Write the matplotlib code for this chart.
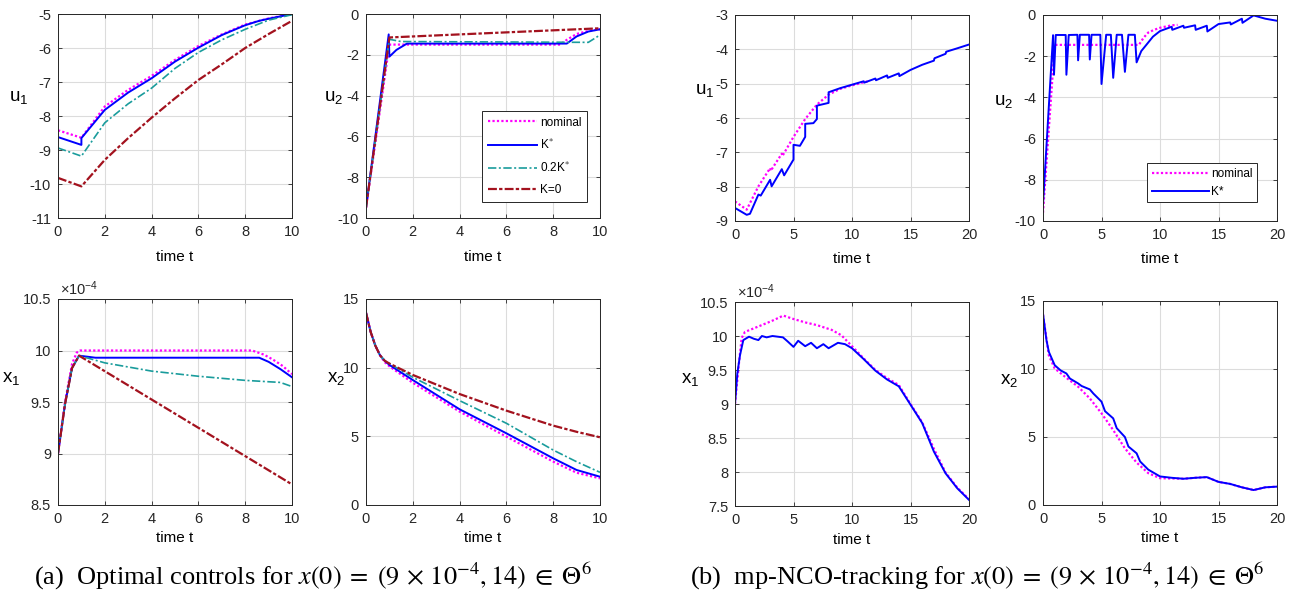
import matplotlib
matplotlib.use("Agg")
from matplotlib import pyplot as plt

plt.rcParams["font.family"] = ["Liberation Sans", "DejaVu Sans"]
plt.rcParams["mathtext.fontset"] = "stix"
plt.rcParams["axes.unicode_minus"] = False

# ---- (a) optimal controls, t in [0, 10] ----
a_u1_nom_t = [0, 1, 2, 3, 4, 5, 6, 7, 8, 9, 10]
a_u1_nom = [-8.42, -8.64, -7.72, -7.23, -6.82, -6.35, -5.94, -5.6, -5.31, -5.13, -5.0]
a_u1_k_t = [0, 1, 1, 2, 3, 4, 5, 6, 7, 8, 8.6, 9, 10]
a_u1_k = [-8.62, -8.85, -8.65, -7.82, -7.31, -6.89, -6.4, -5.99, -5.62, -5.33, -5.2, -5.14, -5.0]
a_u1_02k_t = [0, 1, 2, 3, 4, 5, 6, 7, 8, 9, 10]
a_u1_02k = [-8.94, -9.18, -8.2, -7.64, -7.18, -6.6, -6.13, -5.76, -5.45, -5.18, -5.02]
a_u1_k0_t = [0, 1, 2, 3, 4, 5, 6, 7, 8, 9, 10]
a_u1_k0 = [-9.82, -10.07, -9.29, -8.65, -8.05, -7.48, -6.94, -6.48, -6.0, -5.59, -5.2]

a_u2_nom_t = [0, 1.0, 8.3, 8.6, 9.0, 9.5, 10]
a_u2_nom = [-9.5, -1.5, -1.5, -1.25, -0.98, -0.83, -0.75]
a_u2_k_t = [0, 0.97, 1.0, 1.3, 1.75, 8.58, 9.0, 9.5, 10]
a_u2_k = [-9.5, -1.0, -2.09, -1.76, -1.45, -1.45, -1.1, -0.86, -0.75]
a_u2_02k_t = [0, 1.0, 1.5, 9.5, 10]
a_u2_02k = [-9.5, -1.24, -1.35, -1.39, -1.03]
a_u2_k0_t = [0, 1.0, 10]
a_u2_k0 = [-9.5, -1.15, -0.7]

# x1 values in units of 1e-4
a_x1_nom_t = [0, 0.3, 0.6, 0.8, 0.95, 8.3, 8.8, 9.2, 9.6, 10]
a_x1_nom = [9.0, 9.5, 9.87, 9.98, 10.0, 10.0, 9.96, 9.91, 9.85, 9.77]
a_x1_k_t = [0, 0.3, 0.6, 0.9, 1.6, 8.6, 9.0, 9.5, 10]
a_x1_k = [9.0, 9.48, 9.83, 9.95, 9.93, 9.93, 9.89, 9.82, 9.74]
a_x1_02k_t = [0, 0.3, 0.6, 0.9, 2, 4, 6, 8, 9.5, 10]
a_x1_02k = [9.0, 9.48, 9.83, 9.95, 9.88, 9.8, 9.75, 9.71, 9.69, 9.65]
a_x1_k0_t = [0, 0.3, 0.6, 0.9, 10]
a_x1_k0 = [9.0, 9.48, 9.83, 9.95, 8.7]

a_x2_t = [0, 0.2, 0.4, 0.6, 0.8, 1, 2, 4, 6, 8, 9, 10]
a_x2_nom = [14, 12.6, 11.6, 10.9, 10.4, 10.1, 8.9, 6.8, 4.98, 3.16, 2.35, 1.94]
a_x2_k = [14, 12.6, 11.6, 10.9, 10.5, 10.2, 9.1, 6.97, 5.22, 3.4, 2.55, 2.06]
a_x2_02k = [14, 12.6, 11.6, 10.9, 10.5, 10.3, 9.3, 7.6, 5.95, 4.0, 3.15, 2.38]
a_x2_k0 = [14, 12.6, 11.6, 10.9, 10.5, 10.3, 9.47, 8.08, 6.87, 5.78, 5.33, 4.93]

# ---- (b) mp-NCO-tracking, t in [0, 20] ----
b_u1_nom_t = [0, 1, 2, 3, 3.05, 4, 4.05, 5, 6, 7, 8, 9, 10, 11, 11.5]
b_u1_nom = [-8.43, -8.67, -7.99, -7.46, -7.54, -7.04, -7.11, -6.55, -6.03, -5.61, -5.32,
            -5.15, -5.05, -4.96, -4.92]
b_u1_k_t = [0, 1, 1.28, 2, 2.2, 3, 3.13, 4, 4.2, 5, 5, 5.55, 6, 6, 6.7, 7, 7, 8, 8, 9, 10,
            11, 11.05, 12, 12.05, 13, 13.05, 14, 14.05, 15, 16, 17, 17.05, 18, 18.05, 19, 20]
b_u1_k = [-8.62, -8.82, -8.79, -8.23, -8.26, -7.8, -7.99, -7.49, -7.67, -7.21, -6.78, -6.81,
          -6.55, -6.17, -6.15, -6.03, -5.64, -5.56, -5.25, -5.13, -5.03, -4.93, -4.97, -4.85,
          -4.9, -4.76, -4.83, -4.7, -4.78, -4.6, -4.45, -4.33, -4.26, -4.13, -4.07, -3.97, -3.86]

b_u2_nom_t = [0, 1.0, 8.2, 8.6, 9.0, 9.5, 10, 11, 11.5]
b_u2_nom = [-9.6, -1.45, -1.45, -1.1, -0.85, -0.72, -0.62, -0.5, -0.48]
b_u2_k_t = [0, 0.86, 0.94, 1.09, 1.94, 2.0, 2.2, 2.94, 3.0, 3.15, 3.94, 4.0, 4.15, 4.9, 5.0,
            5.4, 5.8, 6.0, 6.3, 6.75, 7.0, 7.3, 7.85, 8.0, 8.4, 8.86, 9.4, 10, 11, 11.05,
            12, 12.05, 13, 13.05, 14, 14.05, 15, 16, 16.05, 17, 17.05, 18, 19, 20]
b_u2_k = [-9.2, -0.98, -2.9, -0.97, -0.97, -2.9, -0.97, -0.96, -2.2, -0.96, -0.96, -2.16,
          -0.96, -0.96, -3.35, -0.96, -0.96, -3.05, -0.96, -0.96, -2.76, -0.96, -0.96, -2.3,
          -1.75, -1.43, -1.05, -0.78, -0.57, -0.72, -0.52, -0.62, -0.5, -0.72, -0.52, -0.8,
          -0.44, -0.36, -0.46, -0.18, -0.38, -0.02, -0.18, -0.28]

b_x1_nom_t = [0, 0.35, 0.57, 0.85, 2, 3.13, 4.13, 5, 6, 7, 8.26, 9.1, 10, 11, 12, 13, 14,
              15, 16, 17, 18, 19, 20]
b_x1_nom = [9.0, 9.62, 9.97, 10.06, 10.14, 10.22, 10.3, 10.25, 10.2, 10.16, 10.09, 10.01,
            9.85, 9.67, 9.5, 9.38, 9.28, 9.0, 8.73, 8.34, 7.99, 7.77, 7.6]
b_x1_k_t = [0, 0.2, 0.43, 0.71, 1.2, 1.6, 2.0, 2.3, 2.7, 3.2, 4.1, 4.5, 5.0, 5.4, 6.0, 6.5,
            7.0, 7.55, 8.0, 8.8, 9.4, 10, 11, 12, 13, 14, 15, 16, 17, 18, 19, 20]
b_x1_k = [9.0, 9.45, 9.72, 9.94, 9.99, 9.96, 9.94, 10.0, 9.98, 10.0, 9.98, 9.92, 9.84, 9.93,
          9.85, 9.9, 9.82, 9.88, 9.82, 9.9, 9.88, 9.82, 9.66, 9.49, 9.36, 9.26, 8.99, 8.72,
          8.3, 7.98, 7.76, 7.59]

b_x2_nom_t = [0, 0.5, 1, 2, 3, 4, 5, 6, 7, 8, 9, 10, 11, 12, 13, 14, 15, 16, 17, 18, 19, 20]
b_x2_nom = [14, 11.0, 10.04, 9.35, 8.7, 7.84, 6.74, 5.51, 4.17, 3.12, 2.34, 1.97, 1.95, 1.93,
            2.0, 2.05, 1.7, 1.55, 1.3, 1.1, 1.3, 1.35]
b_x2_k_t = [0, 0.3, 0.5, 1, 1.5, 2, 2.3, 3, 3.3, 4, 4.3, 5, 5.3, 6, 6.3, 7, 7.3, 8, 8.3, 9,
            10, 11, 12, 13, 14, 15, 16, 17, 18, 19, 20]
b_x2_k = [14.07, 12.1, 11.26, 10.28, 9.9, 9.67, 9.3, 8.94, 8.75, 8.5, 8.2, 7.6, 6.9, 6.37,
          5.65, 5.0, 4.3, 3.8, 3.2, 2.6, 2.1, 2.0, 1.93, 2.0, 2.05, 1.7, 1.55, 1.3, 1.1, 1.3, 1.35]

NOM = dict(color="#ff00ff", linestyle=(0, (1, 1)), linewidth=1.6)
KSTAR = dict(color="#0000ff", linestyle="-", linewidth=1.4)
K02 = dict(color="#1a9c9c", linestyle=(0, (5, 1.5, 1.2, 1.5)), linewidth=1.2)
K0 = dict(color="#a3121e", linestyle=(0, (4, 1, 1.5, 1)), linewidth=1.6)

W, H = 1297, 596
fig = plt.figure(figsize=(W / 100, H / 100), dpi=100)


def make_ax(left, right, top, bottom, xpad):
    ax = fig.add_axes([left / W, 1 - bottom / H, (right - left) / W, (bottom - top) / H])
    ax.grid(True, color="#dcdcdc", linewidth=0.8)
    ax.set_axisbelow(True)
    ax.tick_params(direction="in", top=True, right=True, length=3, width=0.6,
                   labelsize=10.5, colors="#262626", pad=5)
    for s in ax.spines.values():
        s.set_color("#262626")
        s.set_linewidth(0.7)
    ax.set_xlabel("time t", fontsize=11, labelpad=xpad)
    return ax


def ylab(ax, text, x, y):
    ax.set_ylabel(text, rotation=0, fontsize=13.5)
    ax.yaxis.set_label_coords(x, y)


# (a) u1
ax = make_ax(58, 292, 14, 218, 8)
ax.plot(a_u1_nom_t, a_u1_nom, **NOM)
ax.plot(a_u1_k_t, a_u1_k, **KSTAR)
ax.plot(a_u1_02k_t, a_u1_02k, **K02)
ax.plot(a_u1_k0_t, a_u1_k0, **K0)
ax.set_xlim(0, 10)
ax.set_ylim(-11, -5)
ax.set_xticks(range(0, 11, 2))
ax.set_yticks(range(-11, -4))
ylab(ax, r"$\mathregular{u_1}$", -0.17, 0.55)

# (a) u2
ax = make_ax(366, 600, 14, 218, 8)
ax.plot(a_u2_nom_t, a_u2_nom, label="nominal", **NOM)
ax.plot(a_u2_k_t, a_u2_k, label=r"K$^{*}$", **KSTAR)
ax.plot(a_u2_02k_t, a_u2_02k, label=r"0.2K$^{*}$", **K02)
ax.plot(a_u2_k0_t, a_u2_k0, label="K=0", **K0)
ax.set_xlim(0, 10)
ax.set_ylim(-10, 0)
ax.set_xticks(range(0, 11, 2))
ax.set_yticks(range(-10, 1, 2))
ylab(ax, r"$\mathregular{u_2}$", -0.14, 0.55)
leg = ax.legend(loc="lower right", bbox_to_anchor=(0.945, 0.08), fontsize=8.5,
                handlelength=4.2, handletextpad=0.2, borderpad=0.5, labelspacing=0.75,
                fancybox=False, framealpha=1, edgecolor="#262626", borderaxespad=0)
leg.get_frame().set_linewidth(0.7)

# (a) x1
ax = make_ax(58, 292, 299, 505, 4)
ax.plot(a_x1_nom_t, a_x1_nom, **NOM)
ax.plot(a_x1_k_t, a_x1_k, **KSTAR)
ax.plot(a_x1_02k_t, a_x1_02k, **K02)
ax.plot(a_x1_k0_t, a_x1_k0, **K0)
ax.set_xlim(0, 10)
ax.set_ylim(8.5, 10.5)
ax.set_xticks(range(0, 11, 2))
ax.set_yticks([8.5, 9, 9.5, 10, 10.5])
ax.set_yticklabels(["8.5", "9", "9.5", "10", "10.5"])
ax.text(0.01, 1.005, r"$\mathregular{\times 10^{-4}}$", transform=ax.transAxes,
        fontsize=10.5, va="bottom", ha="left", color="#262626")
ylab(ax, r"$\mathregular{x_1}$", -0.2, 0.575)

# (a) x2
ax = make_ax(366, 600, 299, 505, 4)
ax.plot(a_x2_t, a_x2_nom, **NOM)
ax.plot(a_x2_t, a_x2_k, **KSTAR)
ax.plot(a_x2_t, a_x2_02k, **K02)
ax.plot(a_x2_t, a_x2_k0, **K0)
ax.set_xlim(0, 10)
ax.set_ylim(0, 15)
ax.set_xticks(range(0, 11, 2))
ax.set_yticks([0, 5, 10, 15])
ylab(ax, r"$\mathregular{x_2}$", -0.13, 0.575)

# (b) u1
ax = make_ax(735, 969, 15, 221, 7)
ax.plot(b_u1_nom_t, b_u1_nom, **NOM)
ax.plot(b_u1_k_t, b_u1_k, **KSTAR)
ax.set_xlim(0, 20)
ax.set_ylim(-9, -3)
ax.set_xticks(range(0, 21, 5))
ax.set_yticks(range(-9, -2))
ylab(ax, r"$\mathregular{u_1}$", -0.13, 0.59)

# (b) u2
ax = make_ax(1043, 1277, 15, 221, 7)
ax.plot(b_u2_nom_t, b_u2_nom, label="nominal", **NOM)
ax.plot(b_u2_k_t, b_u2_k, label="K*", **KSTAR)
ax.set_xlim(0, 20)
ax.set_ylim(-10, 0)
ax.set_xticks(range(0, 21, 5))
ax.set_yticks(range(-10, 1, 2))
ylab(ax, r"$\mathregular{u_2}$", -0.17, 0.54)
leg = ax.legend(loc="lower right", bbox_to_anchor=(0.915, 0.09), fontsize=8.5,
                handlelength=4.8, handletextpad=0.2, borderpad=0.4, labelspacing=0.5,
                fancybox=False, framealpha=1, edgecolor="#262626", borderaxespad=0)
leg.get_frame().set_linewidth(0.7)

# (b) x1
ax = make_ax(735, 969, 302, 506, 4)
ax.plot(b_x1_nom_t, b_x1_nom, **NOM)
ax.plot(b_x1_k_t, b_x1_k, **KSTAR)
ax.set_xlim(0, 20)
ax.set_ylim(7.5, 10.5)
ax.set_xticks(range(0, 21, 5))
ax.set_yticks([7.5, 8, 8.5, 9, 9.5, 10, 10.5])
ax.set_yticklabels(["7.5", "8", "8.5", "9", "9.5", "10", "10.5"])
ax.text(0.01, 1.005, r"$\mathregular{\times 10^{-4}}$", transform=ax.transAxes,
        fontsize=10.5, va="bottom", ha="left", color="#262626")
ylab(ax, r"$\mathregular{x_1}$", -0.19, 0.58)

# (b) x2
ax = make_ax(1043, 1277, 301, 505, 4)
ax.plot(b_x2_nom_t, b_x2_nom, **NOM)
ax.plot(b_x2_k_t, b_x2_k, **KSTAR)
ax.set_xlim(0, 20)
ax.set_ylim(0, 15)
ax.set_xticks(range(0, 21, 5))
ax.set_yticks([0, 5, 10, 15])
ylab(ax, r"$\mathregular{x_2}$", -0.145, 0.57)

cap = dict(fontsize=19, family="Liberation Serif", ha="center", va="center")
fig.text(313 / W, 1 - 576 / H,
         r"(a)  Optimal controls for $x(0)\;=\;(9\,\times\,10^{-4}, 14)\;\in\;\Theta^6$", **cap)
fig.text(977 / W, 1 - 576 / H,
         r"(b)  mp-NCO-tracking for $x(0)\;=\;(9\,\times\,10^{-4}, 14)\;\in\;\Theta^6$", **cap)

fig.savefig("out.png", dpi=100)
